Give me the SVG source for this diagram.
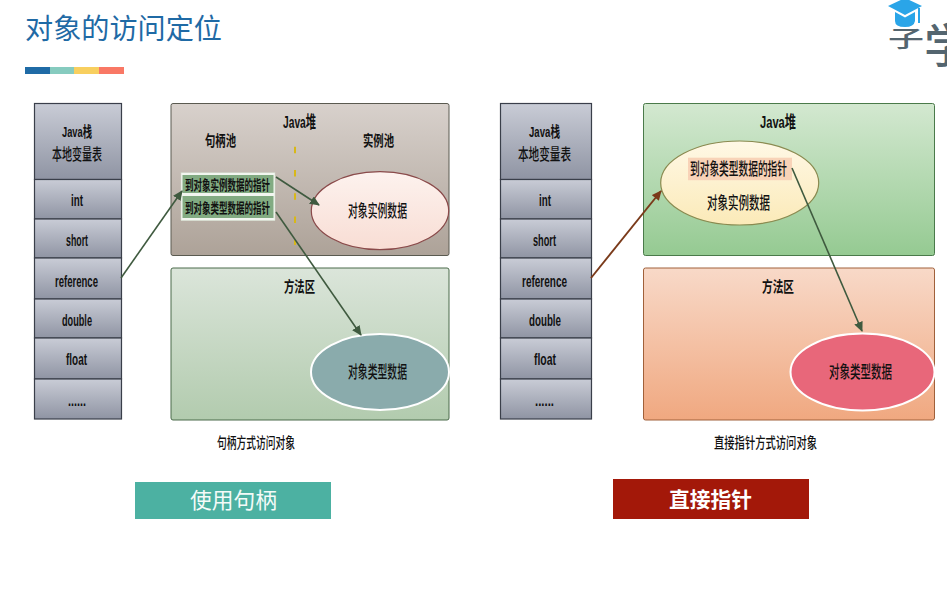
<svg xmlns="http://www.w3.org/2000/svg" width="947" height="609" viewBox="0 0 947 609">
<style>
text{font-family:"Liberation Sans","Noto Sans CJK SC",sans-serif;fill:#111}
.cj{font-size:17px;font-family:"Noto Sans CJK SC",sans-serif;font-weight:500}
.cs{font-size:15px;font-family:"Noto Sans CJK SC",sans-serif;font-weight:700}
.lb{font-size:17px;font-weight:700}
.hd{font-size:15px;font-weight:700}
.hc{font-size:16px;font-family:"Noto Sans CJK SC",sans-serif;font-weight:500}
.lg{font-family:"Noto Sans CJK SC",sans-serif;font-weight:500;fill:#54656f}
.st{fill:url(#gs);stroke:#3a3f4a;stroke-width:1.2}
.c{fill:none;stroke-width:1.6}
.g{stroke:#3f5a3f;marker-end:url(#ag)}
.b{stroke:#7a3a1a;stroke-width:1.9;marker-end:url(#ab)}
</style>
<defs>
<linearGradient id="gs" x1="0" y1="0" x2="0" y2="1"><stop offset="0" stop-color="#c9ccd6"/><stop offset="1" stop-color="#8f94a3"/></linearGradient>
<linearGradient id="h1" x1="0" y1="0" x2="0" y2="1"><stop offset="0" stop-color="#d8d1cc"/><stop offset="1" stop-color="#ada298"/></linearGradient>
<linearGradient id="m1" x1="0" y1="0" x2="0" y2="1"><stop offset="0" stop-color="#dbe5da"/><stop offset="1" stop-color="#b2cbae"/></linearGradient>
<linearGradient id="h2" x1="0" y1="0" x2="0" y2="1"><stop offset="0" stop-color="#d3e8d0"/><stop offset="1" stop-color="#95ca92"/></linearGradient>
<linearGradient id="m2" x1="0" y1="0" x2="0" y2="1"><stop offset="0" stop-color="#f8d9c8"/><stop offset="1" stop-color="#f0a880"/></linearGradient>
<linearGradient id="e1" x1="0" y1="0" x2="0" y2="1"><stop offset="0" stop-color="#fdf2ee"/><stop offset="1" stop-color="#f8ddd4"/></linearGradient>
<linearGradient id="e2" x1="0" y1="0" x2="0" y2="1"><stop offset="0" stop-color="#fff8e6"/><stop offset="1" stop-color="#fbeab8"/></linearGradient>
<marker id="ag" markerWidth="10" markerHeight="9" refX="9" refY="4.500" orient="auto" markerUnits="userSpaceOnUse"><path d="M0 0L10 4.500L0 9Z" fill="#3f5a3f"/></marker>
<marker id="ab" markerWidth="10" markerHeight="9" refX="9" refY="4.500" orient="auto" markerUnits="userSpaceOnUse"><path d="M0 0L10 4.500L0 9Z" fill="#7a3a1a"/></marker>
</defs>

<g id="title">
<text x="25" y="39" font-size="28" style="font-family:'Noto Sans CJK SC',sans-serif;fill:#1f6aa5" textLength="197" lengthAdjust="spacingAndGlyphs">对象的访问定位</text>
<rect x="25" y="67" width="25" height="7" fill="#1f6ba6"/><rect x="50" y="67" width="24" height="7" fill="#86cbbf"/><rect x="74" y="67" width="25" height="7" fill="#f8cf5f"/><rect x="99" y="67" width="25" height="7" fill="#f97865"/>
</g>

<g id="logo">
<text class="lg" transform="translate(888 47) scale(1 .62)" font-size="36">子</text>
<text class="lg" x="924" y="62" font-size="46">学</text>
<path d="M905 -2L888 6L905 15L922 6Z" fill="#2aa5e8"/>
<path d="M895 12L905 17.500L915 12V21Q914 27 905 27Q895 27 895 21Z" fill="#2aa5e8"/>
<rect x="918" y="8" width="2" height="15" fill="#2aa5e8"/>
</g>

<g id="stack-left">
<rect class="st" x="34.500" y="103.500" width="87" height="76"/><rect class="st" x="34.500" y="179.500" width="87" height="39.500"/><rect class="st" x="34.500" y="219" width="87" height="39"/><rect class="st" x="34.500" y="258" width="87" height="41"/><rect class="st" x="34.500" y="299" width="87" height="39"/><rect class="st" x="34.500" y="338" width="87" height="41"/><rect class="st" x="34.500" y="379" width="87" height="40"/>
<text class="hd" x="62" y="137" textLength="30" lengthAdjust="spacingAndGlyphs">Java栈</text>
<text class="hc" x="52" y="160" textLength="50" lengthAdjust="spacingAndGlyphs">本地变量表</text>
<text class="lb" x="71" y="206" textLength="12" lengthAdjust="spacingAndGlyphs">int</text>
<text class="lb" x="66" y="246" textLength="22" lengthAdjust="spacingAndGlyphs">short</text>
<text class="lb" x="55" y="287" textLength="43" lengthAdjust="spacingAndGlyphs">reference</text>
<text class="lb" x="62" y="326" textLength="30" lengthAdjust="spacingAndGlyphs">double</text>
<text class="lb" x="66" y="365" textLength="21" lengthAdjust="spacingAndGlyphs">float</text>
<text class="lb" x="68" y="406" textLength="18" lengthAdjust="spacingAndGlyphs">......</text>
</g>

<g id="heap-left">
<rect x="171" y="103.500" width="278" height="152" rx="2" fill="url(#h1)" stroke="#5a5a50"/>
<text class="lb" x="283" y="128" textLength="33" lengthAdjust="spacingAndGlyphs">Java堆</text>
<text class="cs" x="205" y="146" textLength="31" lengthAdjust="spacingAndGlyphs">句柄池</text>
<text class="cs" x="363" y="146" textLength="31" lengthAdjust="spacingAndGlyphs">实例池</text>
<line x1="295" y1="146.700" x2="295" y2="245" stroke="#d8b818" stroke-width="2" stroke-dasharray="6.500 16.800"/>
</g>

<g id="method-left">
<rect x="171" y="268" width="278" height="152" rx="2" fill="url(#m1)" stroke="#4a6a4a"/>
<text class="cs" x="284" y="292" textLength="31" lengthAdjust="spacingAndGlyphs">方法区</text>
</g>

<g id="pointers-left">
<rect x="181" y="172.700" width="94" height="48" fill="#f2f6f0" stroke="#cdd8c8" stroke-width="0.500"/>
<rect x="182.500" y="175" width="91" height="18" fill="#82ab82"/><rect x="182.500" y="196" width="91" height="22" fill="#82ab82"/>
<text class="cs" x="185" y="190" font-size="14" style="font-size:14px" textLength="85" lengthAdjust="spacingAndGlyphs">到对象实例数据的指针</text>
<text class="cs" x="185" y="213" style="font-size:14px" textLength="85" lengthAdjust="spacingAndGlyphs">到对象类型数据的指针</text>
</g>

<g id="instance-left">
<ellipse cx="380" cy="210.700" rx="68.700" ry="39" fill="url(#e1)" stroke="#8a4a4a" stroke-width="1.200"/>
<text class="cj" x="348" y="217" textLength="59" lengthAdjust="spacingAndGlyphs">对象实例数据</text>
</g>

<g id="type-left">
<ellipse cx="380" cy="372" rx="69" ry="38" fill="#8aabac" stroke="#fff" stroke-width="2"/>
<text class="cj" x="348" y="378" textLength="59" lengthAdjust="spacingAndGlyphs">对象类型数据</text>
</g>

<g id="stack-right">
<rect class="st" x="500.500" y="103.500" width="91" height="76"/><rect class="st" x="500.500" y="179.500" width="91" height="39.500"/><rect class="st" x="500.500" y="219" width="91" height="39"/><rect class="st" x="500.500" y="258" width="91" height="41"/><rect class="st" x="500.500" y="299" width="91" height="39"/><rect class="st" x="500.500" y="338" width="91" height="41"/><rect class="st" x="500.500" y="379" width="91" height="40"/>
<text class="hd" x="529" y="137" textLength="31" lengthAdjust="spacingAndGlyphs">Java栈</text>
<text class="hc" x="518" y="160" textLength="53" lengthAdjust="spacingAndGlyphs">本地变量表</text>
<text class="lb" x="539" y="206" textLength="12" lengthAdjust="spacingAndGlyphs">int</text>
<text class="lb" x="533" y="246" textLength="23" lengthAdjust="spacingAndGlyphs">short</text>
<text class="lb" x="522" y="287" textLength="45" lengthAdjust="spacingAndGlyphs">reference</text>
<text class="lb" x="529" y="326" textLength="32" lengthAdjust="spacingAndGlyphs">double</text>
<text class="lb" x="534" y="365" textLength="22" lengthAdjust="spacingAndGlyphs">float</text>
<text class="lb" x="535" y="406" textLength="19" lengthAdjust="spacingAndGlyphs">......</text>
</g>

<g id="heap-right">
<rect x="643.500" y="103.500" width="291" height="152" rx="2" fill="url(#h2)" stroke="#4a7a4a"/>
<text class="lb" x="760" y="128" textLength="36" lengthAdjust="spacingAndGlyphs">Java堆</text>
</g>

<g id="method-right">
<rect x="643.500" y="268" width="291" height="152" rx="2" fill="url(#m2)" stroke="#a0603a"/>
<text class="cs" x="762" y="292" textLength="32" lengthAdjust="spacingAndGlyphs">方法区</text>
</g>

<g id="instance-right">
<ellipse cx="739.700" cy="183" rx="79" ry="42" fill="url(#e2)" stroke="#8a8a50" stroke-width="1.200"/>
<rect x="688" y="157.700" width="104" height="22.500" fill="#f8d3b8"/>
<text class="cj" x="690" y="175" textLength="97" lengthAdjust="spacingAndGlyphs">到对象类型数据的指针</text>
<text class="cj" x="707" y="209" textLength="63" lengthAdjust="spacingAndGlyphs">对象实例数据</text>
</g>

<g id="type-right">
<ellipse cx="862.500" cy="372" rx="72" ry="38.500" fill="#e8677a" stroke="#fff" stroke-width="2"/>
<text class="cj" x="829" y="378" textLength="63" lengthAdjust="spacingAndGlyphs">对象类型数据</text>
</g>

<g id="connectors">
<line class="c g" x1="121" y1="278" x2="182" y2="191"/>
<line class="c g" x1="276" y1="177" x2="319" y2="205"/>
<line class="c g" x1="276" y1="212" x2="361" y2="335"/>
<line class="c b" x1="591" y1="278" x2="661" y2="191"/>
<line class="c g" x1="792" y1="168" x2="862" y2="331"/>
</g>

<g id="caption-left">
<text class="cs" x="217" y="448" textLength="78" lengthAdjust="spacingAndGlyphs" style="font-weight:500">句柄方式访问对象</text>
</g>
<g id="caption-right">
<text class="cs" x="714" y="448" textLength="103" lengthAdjust="spacingAndGlyphs" style="font-weight:500">直接指针方式访问对象</text>
</g>

<g id="button-left">
<rect x="135" y="482" width="196" height="37" fill="#4cb1a2"/>
<text x="190" y="508" font-size="22" style="font-family:'Noto Sans CJK SC',sans-serif;fill:#f4fbf8" textLength="87" lengthAdjust="spacingAndGlyphs">使用句柄</text>
</g>
<g id="button-right">
<rect x="613" y="479" width="196" height="40" fill="#a31809"/>
<text x="669" y="507" font-size="21" font-weight="700" style="font-family:'Noto Sans CJK SC',sans-serif;fill:#fff" textLength="83" lengthAdjust="spacingAndGlyphs">直接指针</text>
</g>
</svg>
